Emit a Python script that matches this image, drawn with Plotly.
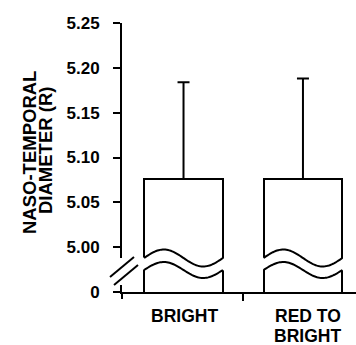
import numpy as np
import plotly.graph_objects as go

# ---- data ----
categories = ["BRIGHT", "RED TO BRIGHT"]
label_lines = [["BRIGHT"], ["RED TO", "BRIGHT"]]
means = [5.076, 5.076]
sd_upper = [0.108, 0.112]
y_tickvals = [4.95, 5.00, 5.05, 5.10, 5.15, 5.20, 5.25]
y_ticktext = ["0", "5.00", "5.05", "5.10", "5.15", "5.20", "5.25"]
y_title_lines = ["NASO-TEMPORAL", "DIAMETER (R)"]

# ---- layout geometry ----
W, H = 356, 345
L, R, T, B = 122, 0, 23, 53
plot_w, plot_h = W - L - R, H - T - B
x_range = [-0.515, 1.444]
y_range = [4.95, 5.25]
bar_w = 0.66
FONT = "Liberation Sans, Arial, Helvetica, sans-serif"


def py2y(py):
    return y_range[0] + (H - B - py) / plot_h * (y_range[1] - y_range[0])


def pxp(px):
    return (px - L) / plot_w


def pyp(py):
    return (H - B - py) / plot_h


xs_idx = list(range(len(categories)))

fig = go.Figure()
fig.add_trace(go.Bar(
    x=xs_idx, y=means, width=bar_w,
    marker=dict(color="white", line=dict(color="black", width=2)),
    error_y=dict(type="data", symmetric=False, array=sd_upper,
                 arrayminus=[0] * len(means), color="black",
                 thickness=2, width=6),
    showlegend=False,
))

shapes = []
# wavy break in each bar
unit = (x_range[1] - x_range[0]) / plot_w  # data units per px
for i in xs_idx:
    x0, x1 = i - bar_w / 2, i + bar_w / 2
    t = np.linspace(0, 1, 60)
    xs = x0 + (x1 - x0) * t
    up = [py2y(258 - 8.5 * np.sin(2 * np.pi * tt)) for tt in t]
    lo = [py2y(270 - 8.0 * np.sin(2 * np.pi * tt)) for tt in t]
    xm = list(xs)
    xm[0] -= 3 * unit
    xm[-1] += 3 * unit
    pts = [(xm[k], up[k]) for k in range(len(t))] + \
          [(xm[k], lo[k]) for k in reversed(range(len(t)))]
    path = "M " + " L ".join(f"{a},{b}" for a, b in pts) + " Z"
    shapes.append(dict(type="path", path=path, xref="x", yref="y",
                       fillcolor="white", line=dict(width=0), layer="above"))
    for arr in (up, lo):
        p = "M " + " L ".join(f"{a},{b}" for a, b in zip(xs, arr))
        shapes.append(dict(type="path", path=p, xref="x", yref="y",
                           line=dict(color="black", width=2), layer="above"))

# axis break on the y axis
shapes.append(dict(type="rect", xref="paper", yref="paper",
                   x0=pxp(119), x1=pxp(125), y0=pyp(285), y1=pyp(258),
                   fillcolor="white", line=dict(width=0), layer="above"))
for (ax, ay, bx, by) in [(110, 277, 134, 257), (114, 285, 138, 265)]:
    shapes.append(dict(type="line", xref="paper", yref="paper",
                       x0=pxp(ax), y0=pyp(ay), x1=pxp(bx), y1=pyp(by),
                       line=dict(color="black", width=2), layer="above"))
# y axis extension below 0
shapes.append(dict(type="line", xref="paper", yref="paper",
                   x0=0, x1=0, y0=0, y1=pyp(299),
                   line=dict(color="black", width=2), layer="above"))

annotations = []
# category labels
offs = [1, 5]
for i, lines in enumerate(label_lines):
    for j, s in enumerate(lines):
        annotations.append(dict(
            text=s, x=i, xref="x", xshift=offs[i],
            y=pyp(316 + 19.5 * j), yref="paper",
            xanchor="center", yanchor="middle", showarrow=False,
            font=dict(family=FONT, size=17.5, color="black", weight="bold")))
# y-title
for (s, cx, cy) in zip(y_title_lines, [29, 45], [153, 151]):
    annotations.append(dict(
        text=s, x=pxp(cx), xref="paper", y=pyp(cy), yref="paper",
        textangle=-90, xanchor="center", yanchor="middle", showarrow=False,
        font=dict(family=FONT, size=18.5, color="black", weight="bold")))

fig.update_layout(
    width=W, height=H,
    margin=dict(l=L, r=R, t=T, b=B, pad=0),
    plot_bgcolor="white", paper_bgcolor="white",
    bargap=0,
    xaxis=dict(range=x_range, showgrid=False, zeroline=False,
               showline=True, linecolor="black", linewidth=2,
               tickvals=[0.5], ticktext=[""], ticks="outside",
               ticklen=7, tickwidth=2, tickcolor="black",
               showticklabels=False, fixedrange=True),
    yaxis=dict(range=y_range, showgrid=False, zeroline=False,
               showline=True, linecolor="black", linewidth=2,
               tickvals=y_tickvals, ticktext=y_ticktext, ticks="outside",
               ticklen=7, tickwidth=2, tickcolor="black",
               ticklabelstandoff=10,
               tickfont=dict(family=FONT, size=17, color="black",
                             weight="bold"),
               fixedrange=True),
    shapes=shapes,
    annotations=annotations,
    showlegend=False,
)

fig.write_html("out.html")
